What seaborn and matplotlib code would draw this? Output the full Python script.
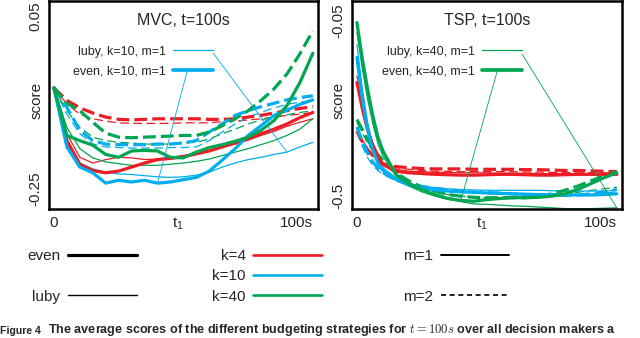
"""
Average scores of the budgeting strategies (MVC and TSP, t=100s).
"""
import matplotlib
matplotlib.use("Agg")
import matplotlib.pyplot as plt
from matplotlib.lines import Line2D
import pandas as pd
import seaborn as sns

# ===============================
# Data
# ===============================
mvc_x = [0, 5, 10, 15, 20, 25, 30, 35, 40, 45, 50, 55, 60, 65, 70, 75, 80, 85, 90, 95, 100]
tsp_x = [0, 2, 4, 6, 8, 10, 15, 20, 25, 30, 35, 40, 45, 50, 55, 60, 65, 70, 75, 80, 85, 90, 95, 100]

# MVC panel
mvc_even_k4_m1 = [-0.075, -0.167, -0.208, -0.219, -0.223, -0.220, -0.213, -0.206, -0.200, -0.198, -0.195,
                  -0.190, -0.185, -0.178, -0.171, -0.164, -0.155, -0.147, -0.138, -0.127, -0.118]
mvc_luby_k4_m1 = [-0.075, -0.155, -0.196, -0.206, -0.200, -0.196, -0.197, -0.200, -0.199, -0.196, -0.193,
                  -0.189, -0.184, -0.178, -0.173, -0.166, -0.158, -0.151, -0.142, -0.135, -0.129]
mvc_even_k4_m2 = [-0.075, -0.097, -0.110, -0.119, -0.126, -0.130, -0.131, -0.130, -0.129, -0.129, -0.129,
                  -0.129, -0.130, -0.130, -0.129, -0.126, -0.123, -0.119, -0.115, -0.111, -0.108]
mvc_luby_k4_m2 = [-0.075, -0.103, -0.121, -0.129, -0.133, -0.136, -0.137, -0.137, -0.137, -0.137, -0.136,
                  -0.136, -0.136, -0.134, -0.133, -0.131, -0.129, -0.126, -0.123, -0.121, -0.118]
mvc_even_k10_m1 = [-0.075, -0.178, -0.213, -0.223, -0.241, -0.236, -0.239, -0.236, -0.241, -0.239, -0.235,
                   -0.231, -0.220, -0.201, -0.181, -0.158, -0.141, -0.123, -0.114, -0.104, -0.096]
mvc_luby_k10_m1 = [-0.075, -0.173, -0.206, -0.216, -0.222, -0.225, -0.226, -0.228, -0.230, -0.231, -0.230,
                   -0.227, -0.222, -0.213, -0.206, -0.200, -0.196, -0.191, -0.187, -0.178, -0.170]
mvc_even_k10_m2 = [-0.075, -0.109, -0.149, -0.167, -0.173, -0.174, -0.174, -0.174, -0.173, -0.173, -0.171,
                   -0.167, -0.152, -0.138, -0.123, -0.115, -0.108, -0.102, -0.096, -0.092, -0.089]
mvc_luby_k10_m2 = [-0.075, -0.121, -0.155, -0.173, -0.178, -0.179, -0.180, -0.180, -0.180, -0.179, -0.179,
                   -0.178, -0.167, -0.152, -0.138, -0.126, -0.118, -0.110, -0.104, -0.100, -0.097]
mvc_even_k40_m1 = [-0.075, -0.158, -0.167, -0.175, -0.191, -0.196, -0.185, -0.184, -0.185, -0.196, -0.197,
                   -0.187, -0.179, -0.174, -0.168, -0.161, -0.149, -0.132, -0.106, -0.066, -0.015]
mvc_luby_k40_m1 = [-0.075, -0.144, -0.181, -0.197, -0.204, -0.207, -0.210, -0.210, -0.210, -0.208, -0.206,
                   -0.203, -0.199, -0.193, -0.187, -0.181, -0.174, -0.167, -0.158, -0.147, -0.129]
mvc_even_k40_m2 = [-0.075, -0.102, -0.115, -0.135, -0.154, -0.161, -0.162, -0.161, -0.160, -0.159, -0.158,
                   -0.158, -0.152, -0.141, -0.129, -0.115, -0.097, -0.077, -0.051, -0.016, 0.024]
mvc_luby_k40_m2 = [-0.075, -0.115, -0.144, -0.161, -0.167, -0.170, -0.171, -0.173, -0.173, -0.173, -0.171,
                   -0.170, -0.164, -0.155, -0.147, -0.138, -0.131, -0.126, -0.122, -0.118, -0.115]

# TSP panel
tsp_even_k4_m1 = [-0.208, -0.273, -0.328, -0.367, -0.397, -0.419, -0.436, -0.440, -0.442, -0.444, -0.445, -0.446,
                  -0.446, -0.445, -0.444, -0.444, -0.445, -0.446, -0.446, -0.445, -0.444, -0.444, -0.444, -0.444]
tsp_luby_k4_m1 = [-0.191, -0.260, -0.320, -0.363, -0.393, -0.414, -0.431, -0.436, -0.437, -0.439, -0.439, -0.440,
                  -0.440, -0.440, -0.441, -0.441, -0.441, -0.442, -0.442, -0.442, -0.442, -0.442, -0.442, -0.442]
tsp_even_k4_m2 = [-0.333, -0.359, -0.380, -0.395, -0.408, -0.417, -0.424, -0.427, -0.429, -0.430, -0.430, -0.430,
                  -0.431, -0.431, -0.431, -0.431, -0.432, -0.432, -0.433, -0.434, -0.434, -0.435, -0.436, -0.437]
tsp_luby_k4_m2 = [-0.328, -0.354, -0.376, -0.393, -0.406, -0.416, -0.427, -0.431, -0.434, -0.436, -0.436, -0.437,
                  -0.437, -0.437, -0.437, -0.437, -0.438, -0.438, -0.439, -0.439, -0.440, -0.440, -0.440, -0.441]
tsp_even_k10_m1 = [-0.144, -0.247, -0.324, -0.380, -0.414, -0.434, -0.457, -0.472, -0.478, -0.484, -0.487, -0.489,
                   -0.490, -0.492, -0.493, -0.494, -0.495, -0.496, -0.496, -0.496, -0.497, -0.497, -0.496, -0.494]
tsp_luby_k10_m1 = [-0.110, -0.221, -0.307, -0.367, -0.406, -0.427, -0.453, -0.468, -0.474, -0.478, -0.481, -0.483,
                   -0.484, -0.485, -0.485, -0.485, -0.485, -0.485, -0.486, -0.487, -0.487, -0.487, -0.487, -0.485]
tsp_even_k10_m2 = [-0.322, -0.359, -0.388, -0.412, -0.427, -0.440, -0.457, -0.468, -0.475, -0.480, -0.484, -0.487,
                   -0.490, -0.491, -0.492, -0.494, -0.496, -0.497, -0.498, -0.498, -0.497, -0.494, -0.489, -0.483]
tsp_luby_k10_m2 = [-0.337, -0.371, -0.400, -0.420, -0.434, -0.444, -0.461, -0.472, -0.478, -0.483, -0.487, -0.490,
                   -0.491, -0.493, -0.494, -0.496, -0.497, -0.498, -0.499, -0.499, -0.498, -0.496, -0.492, -0.489]
tsp_even_k40_m1 = [-0.054, -0.144, -0.221, -0.290, -0.346, -0.384, -0.444, -0.468, -0.483, -0.496, -0.506, -0.511,
                   -0.513, -0.509, -0.506, -0.504, -0.504, -0.503, -0.500, -0.494, -0.483, -0.468, -0.453, -0.440]
tsp_luby_k40_m1 = [-0.080, -0.170, -0.247, -0.311, -0.363, -0.397, -0.448, -0.474, -0.489, -0.500, -0.508, -0.514,
                   -0.520, -0.521, -0.523, -0.525, -0.526, -0.528, -0.530, -0.532, -0.532, -0.532, -0.531, -0.530]
tsp_even_k40_m2 = [-0.303, -0.328, -0.354, -0.376, -0.393, -0.408, -0.440, -0.461, -0.477, -0.487, -0.496, -0.500,
                   -0.503, -0.504, -0.504, -0.504, -0.504, -0.500, -0.494, -0.485, -0.474, -0.461, -0.448, -0.437]
tsp_luby_k40_m2 = [-0.311, -0.337, -0.363, -0.384, -0.401, -0.414, -0.444, -0.466, -0.478, -0.489, -0.496, -0.500,
                   -0.503, -0.504, -0.504, -0.504, -0.503, -0.500, -0.497, -0.494, -0.490, -0.485, -0.481, -0.477]

panels = ["MVC", "TSP"]
strategies = ["luby", "even"]
k_values = [4, 10, 40]
m_values = [1, 2]

series = {
    ("MVC", "even", 4, 1): mvc_even_k4_m1, ("MVC", "luby", 4, 1): mvc_luby_k4_m1,
    ("MVC", "even", 4, 2): mvc_even_k4_m2, ("MVC", "luby", 4, 2): mvc_luby_k4_m2,
    ("MVC", "even", 10, 1): mvc_even_k10_m1, ("MVC", "luby", 10, 1): mvc_luby_k10_m1,
    ("MVC", "even", 10, 2): mvc_even_k10_m2, ("MVC", "luby", 10, 2): mvc_luby_k10_m2,
    ("MVC", "even", 40, 1): mvc_even_k40_m1, ("MVC", "luby", 40, 1): mvc_luby_k40_m1,
    ("MVC", "even", 40, 2): mvc_even_k40_m2, ("MVC", "luby", 40, 2): mvc_luby_k40_m2,
    ("TSP", "even", 4, 1): tsp_even_k4_m1, ("TSP", "luby", 4, 1): tsp_luby_k4_m1,
    ("TSP", "even", 4, 2): tsp_even_k4_m2, ("TSP", "luby", 4, 2): tsp_luby_k4_m2,
    ("TSP", "even", 10, 1): tsp_even_k10_m1, ("TSP", "luby", 10, 1): tsp_luby_k10_m1,
    ("TSP", "even", 10, 2): tsp_even_k10_m2, ("TSP", "luby", 10, 2): tsp_luby_k10_m2,
    ("TSP", "even", 40, 1): tsp_even_k40_m1, ("TSP", "luby", 40, 1): tsp_luby_k40_m1,
    ("TSP", "even", 40, 2): tsp_even_k40_m2, ("TSP", "luby", 40, 2): tsp_luby_k40_m2,
}
x_values = {"MVC": mvc_x, "TSP": tsp_x}

rows = []
for (panel, strat, k, m), ys in series.items():
    for t, s in zip(x_values[panel], ys):
        rows.append({"panel": panel, "strategy": strat, "k": k, "m": m, "t": t, "score": s})
df = pd.DataFrame(rows)

# ===============================
# Style
# ===============================
sns.set_style("white")
plt.rcParams["font.family"] = ["Liberation Sans", "DejaVu Sans"]
plt.rcParams["mathtext.fontset"] = "cm"

COLORS = {4: "#ED1C24", 10: "#00AEEF", 40: "#00A651"}
WIDTHS = {"even": 2.3, "luby": 0.9}
DASHES = {("even", 2): (0, (4, 1.6)), ("luby", 2): (0, (7, 3.5))}

fig = plt.figure(figsize=(6.4, 3.38), dpi=100)
W, H = 640, 338


def px_axes(x0, y0, x1, y1):
    return fig.add_axes([x0 / W, 1 - y1 / H, (x1 - x0) / W, (y1 - y0) / H])


ax_mvc = px_axes(49, 1, 318, 209)
ax_tsp = px_axes(352, 1, 622, 209)
axes = {"MVC": ax_mvc, "TSP": ax_tsp}

limits = {"MVC": (-0.286, 0.076), "TSP": (-0.533, 0.0014)}
yticks = {"MVC": ([0.05, -0.25], ["0.05", "-0.25"]), "TSP": ([-0.05, -0.5], ["-0.05", "-0.5"])}
titles = {"MVC": "MVC, t=100s", "TSP": "TSP, t=100s"}

# ===============================
# Curves
# ===============================
for panel in panels:
    ax = axes[panel]
    for strat in strategies:
        for m in [2, 1]:
            for k in k_values:
                sub = df[(df.panel == panel) & (df.strategy == strat) & (df.k == k) & (df.m == m)]
                sns.lineplot(data=sub, x="t", y="score", ax=ax, color=COLORS[k],
                             linewidth=WIDTHS[strat], linestyle=DASHES.get((strat, m), "-"),
                             estimator=None, legend=False)

    ax.set_xlim(-1.9, 102.0)
    ax.set_ylim(*limits[panel])
    ax.set_xticks([0, 48, 100])
    ax.set_xticklabels(["0", r"$\mathregular{t_1}$", "100s"], fontsize=11)
    ax.get_xticklabels()[-1].set_ha("right")
    ax.set_yticks(yticks[panel][0])
    ax.set_yticklabels(yticks[panel][1], fontsize=11, rotation=90, va="center")
    ax.tick_params(length=0, pad=5)
    ax.set_xlabel("")
    ax.set_ylabel("score", fontsize=11)
    ax.yaxis.set_label_coords(-0.022, 0.52)
    for sp in ax.spines.values():
        sp.set_color("black")
        sp.set_linewidth(1.8)
    ax.text(0.5, 0.905, titles[panel], transform=ax.transAxes, ha="center", va="center", fontsize=11.5)

# ===============================
# In-panel callouts
# ===============================
# legend anchor, luby pointer start, even pointer start (axes fraction), curve indices
callouts = {
    "MVC": (10, (0.61, 0.785), (0.61, 0.75), (0.513, 0.659), 18, 8),
    "TSP": (40, (0.63, 0.785), (0.63, 0.745), (0.537, 0.659), 23, 11),
}
for panel, (k, anchor, luby_start, even_start, luby_idx, even_idx) in callouts.items():
    ax = axes[panel]
    handles = [Line2D([], [], color=COLORS[k], lw=WIDTHS["luby"]),
               Line2D([], [], color=COLORS[k], lw=WIDTHS["even"] + 0.4)]
    labels = [f"luby, k={k}, m=1", f"even, k={k}, m=1"]
    ax.legend(handles, labels, loc="upper right", bbox_to_anchor=anchor, frameon=False,
              markerfirst=False, fontsize=9, handlelength=3.2, handletextpad=0.6,
              labelspacing=0.65, borderpad=0, borderaxespad=0)
    xs = x_values[panel]
    luby = series[(panel, "luby", k, 1)]
    even = series[(panel, "even", k, 1)]
    ax.annotate("", xy=(xs[luby_idx], luby[luby_idx]), xytext=luby_start, textcoords="axes fraction",
                arrowprops=dict(arrowstyle="-", color=COLORS[k], lw=0.6, shrinkA=0, shrinkB=0))
    ax.annotate("", xy=(xs[even_idx], even[even_idx]), xytext=even_start, textcoords="axes fraction",
                arrowprops=dict(arrowstyle="-", color=COLORS[k], lw=0.6, shrinkA=0, shrinkB=0))

# ===============================
# Bottom legends
# ===============================
blank = Line2D([], [], color="none")
leg_kw = dict(loc="upper left", frameon=False, markerfirst=False, fontsize=11, handlelength=4.5,
              handletextpad=0.5, labelspacing=0.42, borderpad=0, borderaxespad=0)
leg_top = 1 - 249 / H

fig.legend([Line2D([], [], color="black", lw=2.3), blank, Line2D([], [], color="black", lw=1.0)],
           ["even", " ", "luby"], bbox_to_anchor=(27 / W, leg_top), **leg_kw)
fig.legend([Line2D([], [], color=COLORS[k], lw=1.9) for k in k_values],
           [f"k={k}" for k in k_values], bbox_to_anchor=(212 / W, leg_top), **leg_kw)
fig.legend([Line2D([], [], color="black", lw=1.4), blank,
            Line2D([], [], color="black", lw=1.2, linestyle=(0, (3, 2.2)))],
           ["m=1", " ", "m=2"], bbox_to_anchor=(403 / W, leg_top), **leg_kw)

# ===============================
# Caption
# ===============================
fig.text(0.0, 4.5 / H, "Figure 4", fontsize=7.6, weight="bold", va="baseline", ha="left")
fig.text(48 / W, 4.5 / H,
         "The average scores of the different budgeting strategies for $t = 100s$ over all decision makers a",
         fontsize=9.1, weight="bold", va="baseline", ha="left")

fig.savefig("out.png", dpi=100)
plt.close(fig)
